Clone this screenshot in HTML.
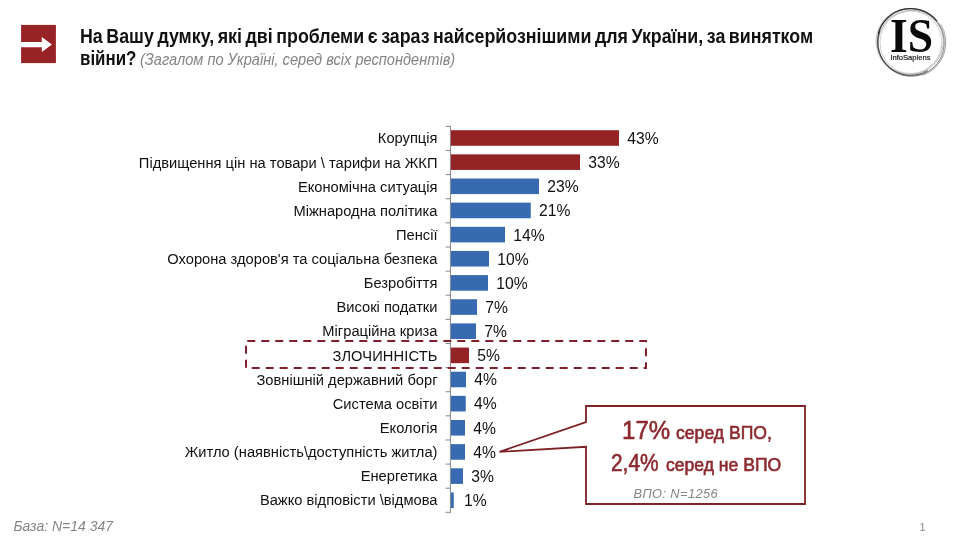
<!DOCTYPE html>
<html lang="uk"><head><meta charset="utf-8"><title>InfoSapiens</title>
<style>
html,body{margin:0;padding:0;background:#fff;}
body{width:960px;height:540px;position:relative;overflow:hidden;font-family:"Liberation Sans",sans-serif;color:#111;}
svg{position:absolute;left:0;top:0;}
.t{position:absolute;white-space:nowrap;margin:0;padding:0;}
.lab{color:#111;}
.val{color:#111;}
.b{font-weight:bold;}
.sx{transform-origin:0 50%;}
.i{font-style:italic;color:#848484;}
.c{color:#8c2a2f;font-weight:normal;-webkit-text-stroke:0.6px #8c2a2f;transform-origin:0 50%;}
.serif{font-family:"Liberation Serif",serif;font-weight:bold;color:#0a0a0a;transform-origin:0 50%;}
</style></head><body>
<svg width="960" height="540" viewBox="0 0 960 540">
<rect x="449.9" y="126.2" width="1" height="386.70" fill="#868686"/>
<rect x="445.6" y="125.90" width="5" height="1" fill="#868686"/>
<rect x="445.6" y="150.02" width="5" height="1" fill="#868686"/>
<rect x="445.6" y="174.14" width="5" height="1" fill="#868686"/>
<rect x="445.6" y="198.26" width="5" height="1" fill="#868686"/>
<rect x="445.6" y="222.38" width="5" height="1" fill="#868686"/>
<rect x="445.6" y="246.50" width="5" height="1" fill="#868686"/>
<rect x="445.6" y="270.62" width="5" height="1" fill="#868686"/>
<rect x="445.6" y="294.74" width="5" height="1" fill="#868686"/>
<rect x="445.6" y="318.86" width="5" height="1" fill="#868686"/>
<rect x="445.6" y="342.98" width="5" height="1" fill="#868686"/>
<rect x="445.6" y="367.10" width="5" height="1" fill="#868686"/>
<rect x="445.6" y="391.22" width="5" height="1" fill="#868686"/>
<rect x="445.6" y="415.34" width="5" height="1" fill="#868686"/>
<rect x="445.6" y="439.46" width="5" height="1" fill="#868686"/>
<rect x="445.6" y="463.58" width="5" height="1" fill="#868686"/>
<rect x="445.6" y="487.70" width="5" height="1" fill="#868686"/>
<rect x="445.6" y="511.82" width="5" height="1" fill="#868686"/>
<rect x="450.9" y="130.20" width="168.10" height="15.6" fill="#932325"/>
<rect x="450.9" y="154.35" width="129.10" height="15.6" fill="#932325"/>
<rect x="450.9" y="178.50" width="88.10" height="15.6" fill="#386ab1"/>
<rect x="450.9" y="202.65" width="79.85" height="15.6" fill="#386ab1"/>
<rect x="450.9" y="226.80" width="54.10" height="15.6" fill="#386ab1"/>
<rect x="450.9" y="250.95" width="38.10" height="15.6" fill="#386ab1"/>
<rect x="450.9" y="275.10" width="37.10" height="15.6" fill="#386ab1"/>
<rect x="450.9" y="299.25" width="26.10" height="15.6" fill="#386ab1"/>
<rect x="450.9" y="323.40" width="25.10" height="15.6" fill="#386ab1"/>
<rect x="450.9" y="347.55" width="18.10" height="15.6" fill="#932325"/>
<rect x="450.9" y="371.70" width="15.10" height="15.6" fill="#386ab1"/>
<rect x="450.9" y="395.85" width="14.85" height="15.6" fill="#386ab1"/>
<rect x="450.9" y="420.00" width="14.10" height="15.6" fill="#386ab1"/>
<rect x="450.9" y="444.15" width="14.10" height="15.6" fill="#386ab1"/>
<rect x="450.9" y="468.30" width="12.10" height="15.6" fill="#386ab1"/>
<rect x="450.9" y="492.45" width="2.85" height="15.6" fill="#386ab1"/>
<rect x="246" y="341" width="400" height="27" fill="none" stroke="#80202c" stroke-width="2" stroke-dasharray="8 6" stroke-dashoffset="-1.3"/>
<path d="M586 406 H805 V504 H586 V446.8 L499.5 451.8 L586 422.2 Z" fill="#fff" stroke="#7d2126" stroke-width="1.8" stroke-linejoin="miter"/>
<rect x="21.1" y="24.9" width="34.8" height="38.2" fill="#982327"/>
<path d="M21 41.9 H41.8 V37 L51.9 44.5 L41.8 52.1 V47.2 H21 Z" fill="#fff"/>
<g fill="none" stroke-linecap="round">
<ellipse cx="910.8" cy="42.3" rx="35" ry="33.8" stroke="#888" stroke-width="0.6" opacity="0.7" transform="rotate(25 910.8 42.3)"/>
<ellipse cx="910.8" cy="42.3" rx="33.4" ry="34" stroke="#555" stroke-width="0.8" opacity="0.75" transform="rotate(-30 910.8 42.3)"/>
<ellipse cx="910.8" cy="42.3" rx="31.8" ry="32.8" stroke="#777" stroke-width="0.7" opacity="0.7" transform="rotate(65 910.8 42.3)"/>
<ellipse cx="910.8" cy="42.3" rx="30.8" ry="31.3" stroke="#999" stroke-width="0.6" opacity="0.7" transform="rotate(10 910.8 42.3)"/>
<path d="M878.34 33.60 A33.6 33.6 0 0 1 936.54 20.70" stroke="#222" stroke-width="1.3" opacity="0.9"/>
<path d="M927.30 70.88 A33.0 33.0 0 0 1 879.79 31.01" stroke="#333" stroke-width="1.1" opacity="0.85"/>
<path d="M941.37 24.65 A35.3 35.3 0 0 1 922.87 75.47" stroke="#777" stroke-width="0.7" opacity="0.7"/>
</g>
</svg>
<div class="t b sx" style="left:80.0px;top:25px;font-size:19.4px;line-height:22px;transform:scaleX(0.918);word-spacing:-1.5px;">На Вашу думку, які дві проблеми є зараз найсерйознішими для України, за винятком</div>
<div class="t b sx" style="left:80.0px;top:47px;font-size:19.4px;line-height:22px;transform:scaleX(0.872);">війни?</div>
<div class="t i sx" style="left:139.6px;top:51px;font-size:16px;line-height:17px;transform:scaleX(0.913);">(Загалом по Україні, серед всіх респондентів)</div>
<div class="t lab" style="right:522.5px;top:130px;font-size:14.7px;line-height:16px;">Корупція</div>
<div class="t val" style="left:627.2px;top:130px;font-size:15.7px;line-height:17px;">43%</div>
<div class="t lab" style="right:522.5px;top:155px;font-size:14.7px;line-height:16px;">Підвищення цін на товари \ тарифи на ЖКП</div>
<div class="t val" style="left:588.2px;top:154px;font-size:15.7px;line-height:17px;">33%</div>
<div class="t lab" style="right:522.5px;top:179px;font-size:14.7px;line-height:16px;">Економічна ситуація</div>
<div class="t val" style="left:547.2px;top:178px;font-size:15.7px;line-height:17px;">23%</div>
<div class="t lab" style="right:522.5px;top:203px;font-size:14.7px;line-height:16px;">Міжнародна політика</div>
<div class="t val" style="left:538.95px;top:202px;font-size:15.7px;line-height:17px;">21%</div>
<div class="t lab" style="right:522.5px;top:227px;font-size:14.7px;line-height:16px;">Пенсії</div>
<div class="t val" style="left:513.2px;top:227px;font-size:15.7px;line-height:17px;">14%</div>
<div class="t lab" style="right:522.5px;top:251px;font-size:14.7px;line-height:16px;">Охорона здоров'я та соціальна безпека</div>
<div class="t val" style="left:497.2px;top:251px;font-size:15.7px;line-height:17px;">10%</div>
<div class="t lab" style="right:522.5px;top:275px;font-size:14.7px;line-height:16px;">Безробіття</div>
<div class="t val" style="left:496.2px;top:275px;font-size:15.7px;line-height:17px;">10%</div>
<div class="t lab" style="right:522.5px;top:299px;font-size:14.7px;line-height:16px;">Високі податки</div>
<div class="t val" style="left:485.2px;top:299px;font-size:15.7px;line-height:17px;">7%</div>
<div class="t lab" style="right:522.5px;top:323px;font-size:14.7px;line-height:16px;">Міграційна криза</div>
<div class="t val" style="left:484.2px;top:323px;font-size:15.7px;line-height:17px;">7%</div>
<div class="t lab" style="right:522.5px;top:348px;font-size:14.7px;line-height:16px;letter-spacing:0.1px;">ЗЛОЧИННІСТЬ</div>
<div class="t val" style="left:477.2px;top:347px;font-size:15.7px;line-height:17px;">5%</div>
<div class="t lab" style="right:522.5px;top:372px;font-size:14.7px;line-height:16px;">Зовнішній державний борг</div>
<div class="t val" style="left:474.2px;top:371px;font-size:15.7px;line-height:17px;">4%</div>
<div class="t lab" style="right:522.5px;top:396px;font-size:14.7px;line-height:16px;">Система освіти</div>
<div class="t val" style="left:473.95px;top:395px;font-size:15.7px;line-height:17px;">4%</div>
<div class="t lab" style="right:522.5px;top:420px;font-size:14.7px;line-height:16px;">Екологія</div>
<div class="t val" style="left:473.2px;top:420px;font-size:15.7px;line-height:17px;">4%</div>
<div class="t lab" style="right:522.5px;top:444px;font-size:14.7px;line-height:16px;">Житло (наявність\доступність житла)</div>
<div class="t val" style="left:473.2px;top:444px;font-size:15.7px;line-height:17px;">4%</div>
<div class="t lab" style="right:522.5px;top:468px;font-size:14.7px;line-height:16px;">Енергетика</div>
<div class="t val" style="left:471.2px;top:468px;font-size:15.7px;line-height:17px;">3%</div>
<div class="t lab" style="right:522.5px;top:492px;font-size:14.7px;line-height:16px;">Важко відповісти \відмова</div>
<div class="t val" style="left:463.95px;top:492px;font-size:15.7px;line-height:17px;">1%</div>
<div class="t c" style="left:621.6px;top:415px;font-size:26px;line-height:30px;transform:scaleX(0.925);">17%</div>
<div class="t c" style="left:675.8px;top:423px;font-size:18px;line-height:20px;transform:scaleX(0.978);">серед ВПО,</div>
<div class="t c" style="left:611.2px;top:449px;font-size:24px;line-height:27px;transform:scaleX(0.87);">2,4%</div>
<div class="t c" style="left:665.8px;top:455px;font-size:18px;line-height:20px;transform:scaleX(0.976);">серед не ВПО</div>
<div class="t i" style="left:633.5px;top:486px;font-size:12.8px;line-height:15px;letter-spacing:0.4px;">ВПО: N=1256</div>
<div class="t i" style="left:13.5px;top:518px;font-size:14px;line-height:16px;">База: N=14 347</div>
<div class="t " style="left:919.6px;top:521px;font-size:11px;line-height:12px;color:#8a8a8a;">1</div>
<div class="t serif" style="left:889.6px;top:9px;font-size:49px;line-height:54px;transform:scaleX(0.93);">IS</div>
<div class="t " style="left:890.4px;top:53px;font-size:7.6px;line-height:9px;color:#111;-webkit-text-stroke:0.2px #222;">InfoSapiens</div>
</body></html>
